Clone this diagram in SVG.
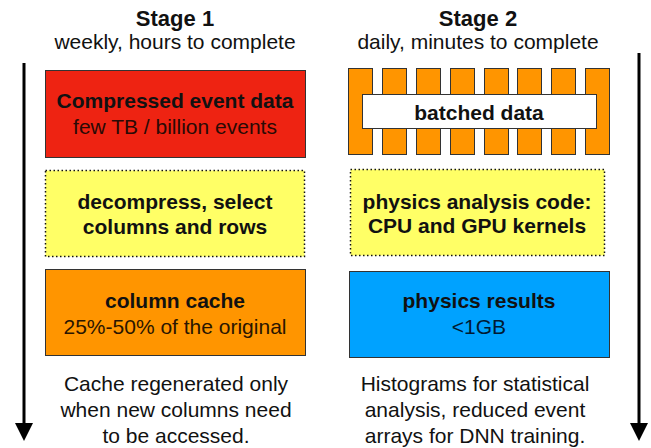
<svg xmlns="http://www.w3.org/2000/svg" width="651" height="448" viewBox="0 0 651 448">
<style>
  text { font-family: "Liberation Sans", Arial, sans-serif; font-size: 21px; fill: #111; text-anchor: middle; }
  .b { font-weight: bold; }
  .t { font-size: 22px; }
  .box { stroke: #333; stroke-width: 1; }
  .dot { stroke: #111; stroke-width: 1.5; stroke-dasharray: 1.5 2.5; }
  .bar { fill: #FF9500; stroke: #333; stroke-width: 1; }
  .arrow { stroke: #000; stroke-width: 3; fill: none; }
</style>
<rect width="651" height="448" fill="#fff"/>

<g id="headers">
  <text x="175" y="26" class="b t">Stage 1</text>
  <text x="175" y="49">weekly, hours to complete</text>
  <text x="478" y="26" class="b t">Stage 2</text>
  <text x="478" y="49">daily, minutes to complete</text>
</g>

<g id="connectors">
  <line x1="24" y1="63" x2="24" y2="424" class="arrow"/>
  <path d="M15,423 L33,423 L24,441 Z" fill="#000"/>
  <line x1="639" y1="53" x2="639" y2="424" class="arrow"/>
  <path d="M630,423 L648,423 L639,441 Z" fill="#000"/>
</g>

<g id="compressed">
  <rect x="45.5" y="70.5" width="260" height="87" fill="#EE2312" class="box"/>
  <text x="175" y="108" class="b">Compressed event data</text>
  <text x="175" y="134" style="fill:#2a0a05">few TB / billion events</text>
</g>

<g id="decompress">
  <rect x="45.5" y="170.5" width="259" height="86" fill="#FFFF66" class="dot"/>
  <text x="175" y="209" class="b">decompress, select</text>
  <text x="175" y="234" class="b">columns and rows</text>
</g>

<g id="cache">
  <rect x="45.5" y="269.5" width="260" height="86" fill="#FF9500" class="box"/>
  <text x="175" y="308" class="b">column cache</text>
  <text x="175" y="334" style="fill:#2a1500">25%-50% of the original</text>
</g>

<g id="batched">
  <rect x="348.5" y="68.5" width="24" height="86" class="bar"/>
  <rect x="382.5" y="68.5" width="24" height="86" class="bar"/>
  <rect x="416.5" y="68.5" width="24" height="86" class="bar"/>
  <rect x="450.5" y="68.5" width="24" height="86" class="bar"/>
  <rect x="484.5" y="68.5" width="24" height="86" class="bar"/>
  <rect x="517.5" y="68.5" width="24" height="86" class="bar"/>
  <rect x="551.5" y="68.5" width="24" height="86" class="bar"/>
  <rect x="585.5" y="68.5" width="24" height="86" class="bar"/>
  <rect x="362.5" y="94.5" width="234" height="34" fill="#fff" class="box"/>
  <text x="479" y="120" class="b">batched data</text>
</g>

<g id="analysis">
  <rect x="350.5" y="169.5" width="254" height="86" fill="#FFFF66" class="dot"/>
  <text x="477" y="209" class="b">physics analysis code:</text>
  <text x="477" y="233" class="b">CPU and GPU kernels</text>
</g>

<g id="results">
  <rect x="349.5" y="271.5" width="260" height="86" fill="#00A2FF" class="box"/>
  <text x="479" y="308" class="b">physics results</text>
  <text x="479" y="334" style="fill:#001a33">&lt;1GB</text>
</g>

<g id="notes">
  <text x="176" y="391">Cache regenerated only</text>
  <text x="176" y="417">when new columns need</text>
  <text x="176" y="443">to be accessed.</text>
  <text x="475" y="391">Histograms for statistical</text>
  <text x="475" y="417">analysis, reduced event</text>
  <text x="475" y="443">arrays for DNN training.</text>
</g>
</svg>
